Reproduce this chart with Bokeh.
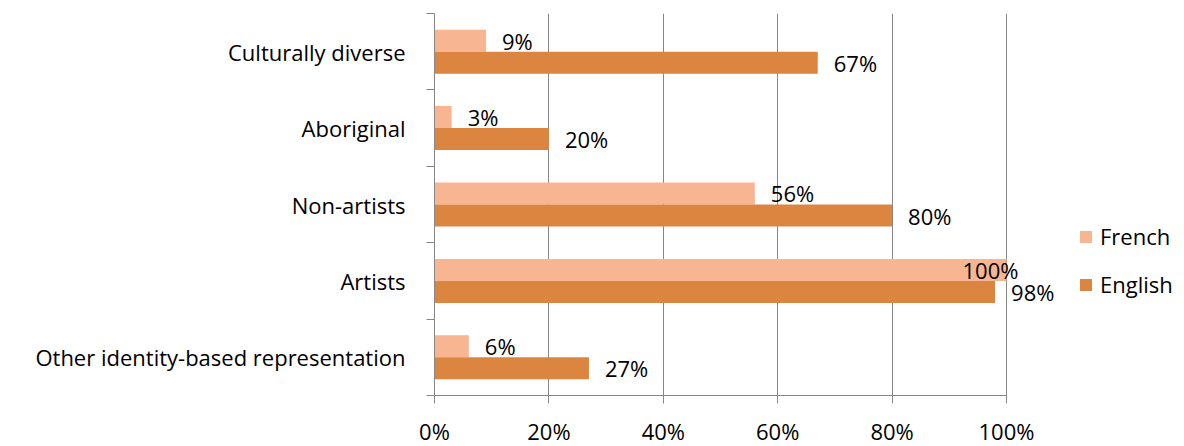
from bokeh.plotting import figure
from bokeh.models import FixedTicker, Legend, LegendItem
from bokeh.embed import file_html
from bokeh.resources import INLINE
from bokeh.core.properties import value

categories = ["Culturally diverse", "Aboriginal", "Non-artists", "Artists",
              "Other identity-based representation"]
french = [9, 3, 56, 100, 6]
english = [67, 20, 80, 98, 27]
series_names = ["French", "English"]
x_ticks = [0, 20, 40, 60, 80, 100]
x_tick_labels = ["0%", "20%", "40%", "60%", "80%", "100%"]

FR_COLOR = "#F8B592"
EN_COLOR = "#DC8540"
GRID = "#878787"
FONT = "Open Sans"

n = len(categories)
centers = [n - i - 0.5 for i in range(n)]
bar_h = 0.288
fr_y = [c + bar_h / 2 for c in centers]
en_y = [c - bar_h / 2 for c in centers]

# plot area spans 0..100% over 572px; frame is widened to the right so that
# labels and legend beyond 100% are not clipped
FRAME_W = 750
x_max = x_ticks[-1] * FRAME_W / 572

p = figure(frame_width=FRAME_W, frame_height=382, x_range=(0, x_max), y_range=(0, n),
           output_backend="svg", toolbar_location=None,
           min_border_left=434, min_border_right=0, min_border_top=13,
           min_border_bottom=51)
p.outline_line_color = None
p.background_fill_color = "white"

# x axis
p.xaxis.ticker = FixedTicker(ticks=x_ticks)
p.xaxis.bounds = (x_ticks[0], x_ticks[-1])
p.xaxis.major_label_overrides = {t: l for t, l in zip(x_ticks, x_tick_labels)}
p.xaxis.axis_line_color = GRID
p.xaxis.major_tick_line_color = GRID
p.xaxis.major_tick_out = 8
p.xaxis.major_tick_in = 0
p.xaxis.minor_tick_line_color = None
p.xaxis.major_label_text_font = FONT
p.xaxis.major_label_text_font_size = "22px"
p.xaxis.major_label_text_color = "black"
p.xaxis.major_label_standoff = 12

# y axis
p.yaxis.ticker = FixedTicker(ticks=centers, minor_ticks=list(range(n + 1)))
p.yaxis.major_label_overrides = {c: cat for c, cat in zip(centers, categories)}
p.yaxis.axis_line_color = GRID
p.yaxis.major_tick_line_color = None
p.yaxis.major_tick_out = 0
p.yaxis.major_tick_in = 0
p.yaxis.minor_tick_line_color = GRID
p.yaxis.minor_tick_out = 8
p.yaxis.minor_tick_in = 0
p.yaxis.major_label_text_font = FONT
p.yaxis.major_label_text_font_size = "22px"
p.yaxis.major_label_text_color = "black"
p.yaxis.major_label_standoff = 21

p.xgrid.grid_line_color = GRID
p.xgrid.ticker = FixedTicker(ticks=x_ticks)
p.ygrid.grid_line_color = None

r_fr = p.hbar(y=fr_y, left=0, right=french, height=bar_h, fill_color=FR_COLOR,
              line_color=None)
r_en = p.hbar(y=en_y, left=0, right=english, height=bar_h, fill_color=EN_COLOR,
              line_color=None)

def offsets(vals):
    return [-44 if v >= 100 else 16 for v in vals]

for vals, ys in ((french, fr_y), (english, en_y)):
    p.text(x=vals, y=ys, text=[f"{v}%" for v in vals], x_offset=offsets(vals),
           text_baseline="middle", text_align="left",
           text_font=value(FONT), text_font_size="22px", text_color="black")

legend = Legend(items=[LegendItem(label=series_names[0], renderers=[r_fr]),
                       LegendItem(label=series_names[1], renderers=[r_en])],
                location=(644, 96))
legend.border_line_color = None
legend.background_fill_alpha = 0
legend.padding = 0
legend.margin = 0
legend.glyph_width = 15
legend.glyph_height = 15
legend.label_height = 24
legend.spacing = 18
legend.label_standoff = 7
legend.label_text_font = FONT
legend.label_text_font_size = "22px"
legend.label_text_color = "black"
p.add_layout(legend)

open("out.html", "w").write(file_html(p, INLINE))
